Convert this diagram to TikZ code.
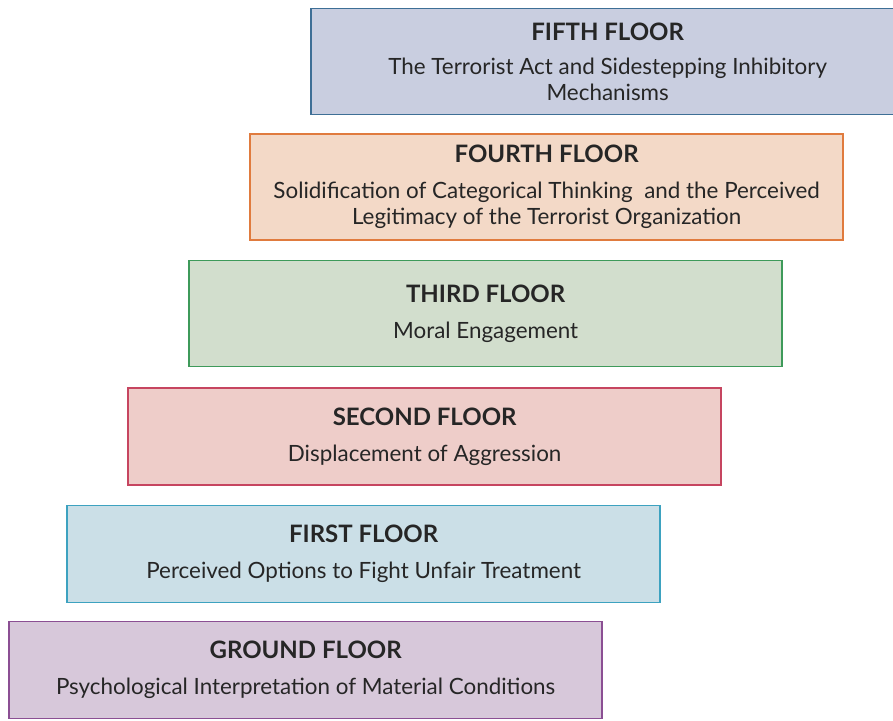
\documentclass[tikz,border=0pt]{standalone}
\usepackage{fontspec}
\setmainfont{Lato}
\usepackage{tikz}
\usetikzlibrary{positioning}

\definecolor{groundfill}{HTML}{D7C8DA}
\definecolor{grounddraw}{HTML}{8B4F93}
\definecolor{firstfill}{HTML}{CBDFE7}
\definecolor{firstdraw}{HTML}{3DA2C0}
\definecolor{secondfill}{HTML}{EECDC9}
\definecolor{seconddraw}{HTML}{C64560}
\definecolor{thirdfill}{HTML}{D2DECD}
\definecolor{thirddraw}{HTML}{3E9A5A}
\definecolor{fourthfill}{HTML}{F3D9C7}
\definecolor{fourthdraw}{HTML}{E07B3E}
\definecolor{fifthfill}{HTML}{C9CEE0}
\definecolor{fifthdraw}{HTML}{3E6F96}
\definecolor{floortext}{HTML}{262626}

\newcommand{\floortitle}[1]{{\fontsize{12pt}{13pt}\selectfont\bfseries #1}}

\begin{document}
\begin{tikzpicture}[
  floor/.style={rectangle, draw, line width=0.75pt, minimum width=296.5pt, minimum height=48.5pt,
    inner sep=0pt, align=center, font=\fontsize{11.2pt}{13pt}\selectfont, text=floortext},
  tall/.style={minimum height=53pt},
  step up/.style={anchor=south west, xshift=30.5pt}
]
  \useasboundingbox (0,0) rectangle (446.5pt,360pt);

  \node[floor, fill=groundfill, draw=grounddraw, anchor=south west] (ground) at (4.2pt,0.4pt)
    {\floortitle{GROUND FLOOR}\\[5pt] Psychological Interpretation of Material Conditions};
  \node[floor, fill=firstfill, draw=firstdraw, above=8.75pt of ground.north west, step up, xshift=-1.5pt] (first)
    {\floortitle{FIRST FLOOR}\\[5pt] Perceived Options to Fight Unfair Treatment};
  \node[floor, fill=secondfill, draw=seconddraw, above=9.5pt of first.north west, step up] (second)
    {\floortitle{SECOND FLOOR}\\[5pt] Displacement of Aggression};
  \node[floor, tall, fill=thirdfill, draw=thirddraw, above=10pt of second.north west, step up] (third)
    {\floortitle{THIRD FLOOR}\\[5pt] Moral Engagement};
  \node[floor, tall, fill=fourthfill, draw=fourthdraw, above=9.5pt of third.north west, step up] (fourth)
    {\floortitle{FOURTH FLOOR}\\[5pt] Solidification of Categorical Thinking\ \ and the Perceived\\ Legitimacy of the Terrorist Organization};
  \node[floor, tall, fill=fifthfill, draw=fifthdraw, above=9pt of fourth.north west, step up] (fifth)
    {\floortitle{FIFTH FLOOR}\\[4pt] The Terrorist Act and Sidestepping Inhibitory\\ Mechanisms};
\end{tikzpicture}
\end{document}
